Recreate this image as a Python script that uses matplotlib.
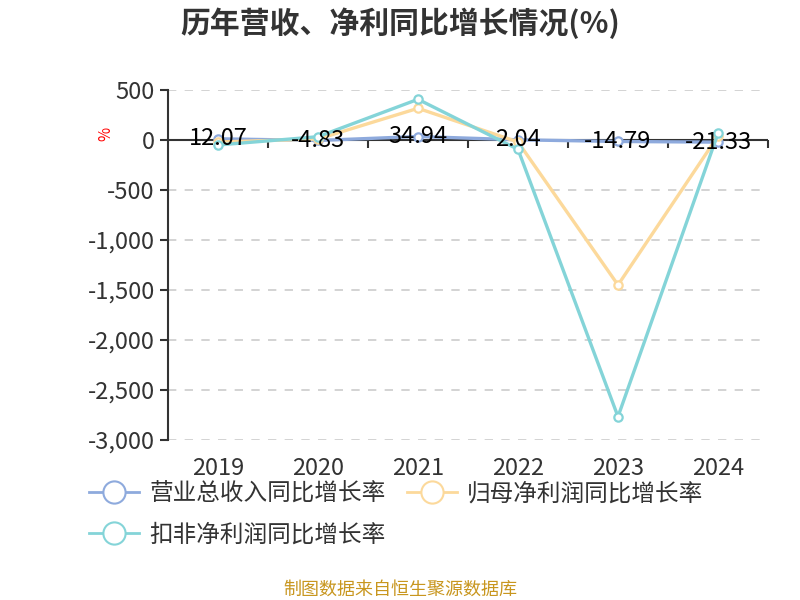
import matplotlib
matplotlib.use("Agg")
import matplotlib.pyplot as plt
from matplotlib.lines import Line2D
from matplotlib.ticker import FuncFormatter

plt.rcParams['font.family'] = ['Noto Sans CJK SC', 'DejaVu Sans']

# data
years = ['2019', '2020', '2021', '2022', '2023', '2024']
revenue_growth = [12.07, -4.83, 34.94, 2.04, -14.79, -21.33]
net_profit_growth = [-20, 10, 317, -20, -1450, 40]
deducted_profit_growth = [-50, 33, 407, -93, -2767, 67]
series_names = ['营业总收入同比增长率', '归母净利润同比增长率', '扣非净利润同比增长率']
colors = ['#8eaadd', '#fcd99b', '#84d4d8']
y_ticks = [500, 0, -500, -1000, -1500, -2000, -2500, -3000]

fig = plt.figure(figsize=(8, 6), dpi=100)
ax = fig.add_axes([0.21, 0.2667, 0.75, 0.5833])

x = list(range(len(years)))
for vals, c in zip([revenue_growth, net_profit_growth, deducted_profit_growth], colors):
    ax.plot(x, vals, color=c, lw=2.4, marker='o', markersize=6,
            markerfacecolor='white', markeredgecolor=c, markeredgewidth=1.6, zorder=3)

# value labels for revenue growth
for i, v in enumerate(revenue_growth):
    ax.text(i, v, f'{v:.2f}', ha='center', va='center', fontsize=17,
            color='black', zorder=5)

ax.set_xlim(-0.5, len(years) - 0.5)
ax.set_ylim(y_ticks[-1], y_ticks[0])
ax.set_yticks(y_ticks)
ax.yaxis.set_major_formatter(FuncFormatter(lambda v, p: f'{int(v):,}'))
ax.tick_params(axis='y', labelsize=17, colors='#333333', length=6, width=1.5,
               labelcolor='#333333')
for t in y_ticks:
    if t != 0:
        ax.axhline(t, color='#cccccc', lw=1.2, ls=(0, (5, 5)), zorder=1)
ax.axhline(0, color='#333333', lw=1.5, zorder=2)

ax.set_xticks(x)
ax.set_xticklabels(years)
ax.tick_params(axis='x', length=0, labelsize=17, labelcolor='#333333', pad=12)

for s in ['top', 'right', 'bottom']:
    ax.spines[s].set_visible(False)
ax.spines['left'].set_color('#333333')
ax.spines['left'].set_linewidth(1.5)

# tick marks on the zero line at category boundaries
zero_pos = (0 - y_ticks[-1]) / (y_ticks[0] - y_ticks[-1])
sec = ax.secondary_xaxis(zero_pos)
sec.set_xticks([i + 0.5 for i in x])
sec.set_xticklabels([])
sec.tick_params(length=6, width=1.5, color='#333333', direction='in')
sec.spines['bottom'].set_visible(False)
sec.spines['top'].set_visible(False)

ax.set_ylabel('%', color='red', fontsize=11)
ax.yaxis.set_label_coords(-0.09, 0.875)

fig.text(0.5, 0.962, '历年营收、净利同比增长情况(%)', ha='center', va='center',
         fontsize=21.5, fontweight='bold', color='#333333')

handles = [Line2D([0], [0], color=c, lw=2, marker='o', markersize=16,
                  markerfacecolor='white', markeredgecolor=c, markeredgewidth=1.5)
           for c in colors]
# legend fills column by column, so reorder to get a row-wise layout
order = [0, 2, 1]
fig.legend([handles[i] for i in order], [series_names[i] for i in order],
           loc='upper left', bbox_to_anchor=(0.085, 0.231),
           ncol=2, frameon=False, fontsize=17, handlelength=2.1, handletextpad=0.45,
           columnspacing=0.9, labelspacing=0.75, labelcolor='#333333')

fig.text(0.5, 0.017, '制图数据来自恒生聚源数据库', ha='center', va='center',
         fontsize=13, color='#c8961e')

fig.savefig('out.png', dpi=100)
